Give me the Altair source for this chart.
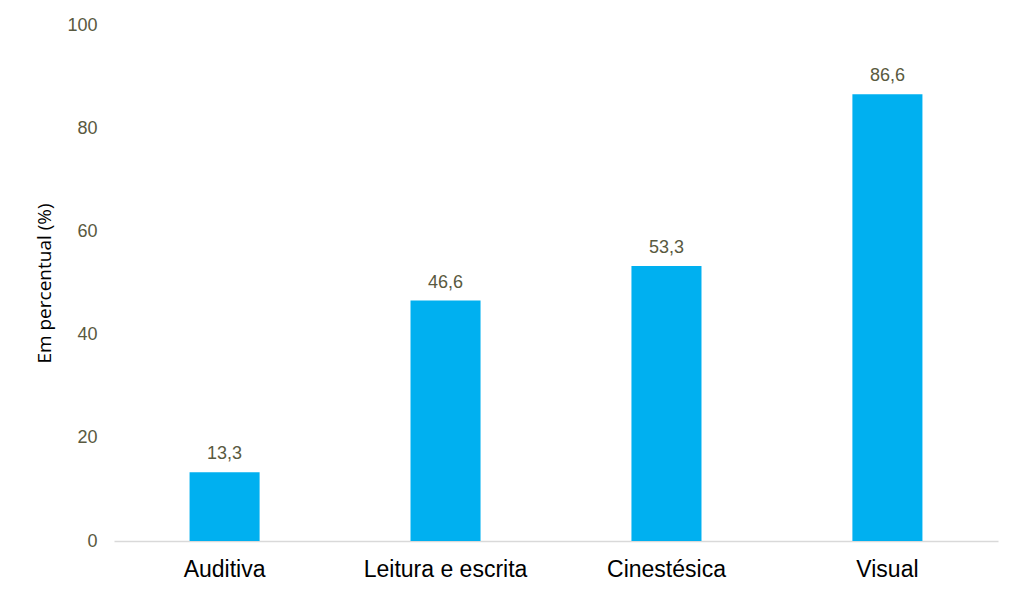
import altair as alt
import pandas as pd

categories = ["Auditiva", "Leitura e escrita", "Cinestésica", "Visual"]
values = [13.3, 46.6, 53.3, 86.6]
value_labels = ["13,3", "46,6", "53,3", "86,6"]

df = pd.DataFrame({"cat": categories, "val": values, "lab": value_labels})

x = alt.X("cat:N", sort=categories, title=None,
          scale=alt.Scale(paddingInner=0.683, paddingOuter=0.342),
          axis=alt.Axis(labelAngle=0, labelFont="Liberation Sans", labelFontSize=23,
                        labelColor="#000000", labelPadding=17, ticks=False,
                        domainColor="#d9d9d9", domainWidth=1.5))
y = alt.Y("val:Q", title="Em percentual (%)",
          scale=alt.Scale(domain=[0, 100], nice=False),
          axis=alt.Axis(values=[0, 20, 40, 60, 80, 100], grid=False, domain=False, ticks=False,
                        labelFont="Liberation Sans", labelFontSize=18, labelColor="#595940",
                        labelPadding=17, titleFont="Open Sans", titleFontSize=19,
                        titleFontWeight="normal", titleColor="#000000", titlePadding=12))

bars = alt.Chart(df).mark_bar(color="#00B0F0").encode(x=x, y=y)
text = alt.Chart(df).mark_text(dy=-18, font="Liberation Sans", fontSize=18, color="#595940").encode(
    x=alt.X("cat:N", sort=categories), y="val:Q", text="lab:N")

chart = (bars + text).properties(
    width=884, height=516,
    autosize=alt.AutoSizeParams(type="none"),
    padding={"left": 106, "top": 17, "right": 10, "bottom": 48},
).configure_view(stroke=None)

chart.save("out.html", embed_options={"renderer": "svg", "actions": False})
